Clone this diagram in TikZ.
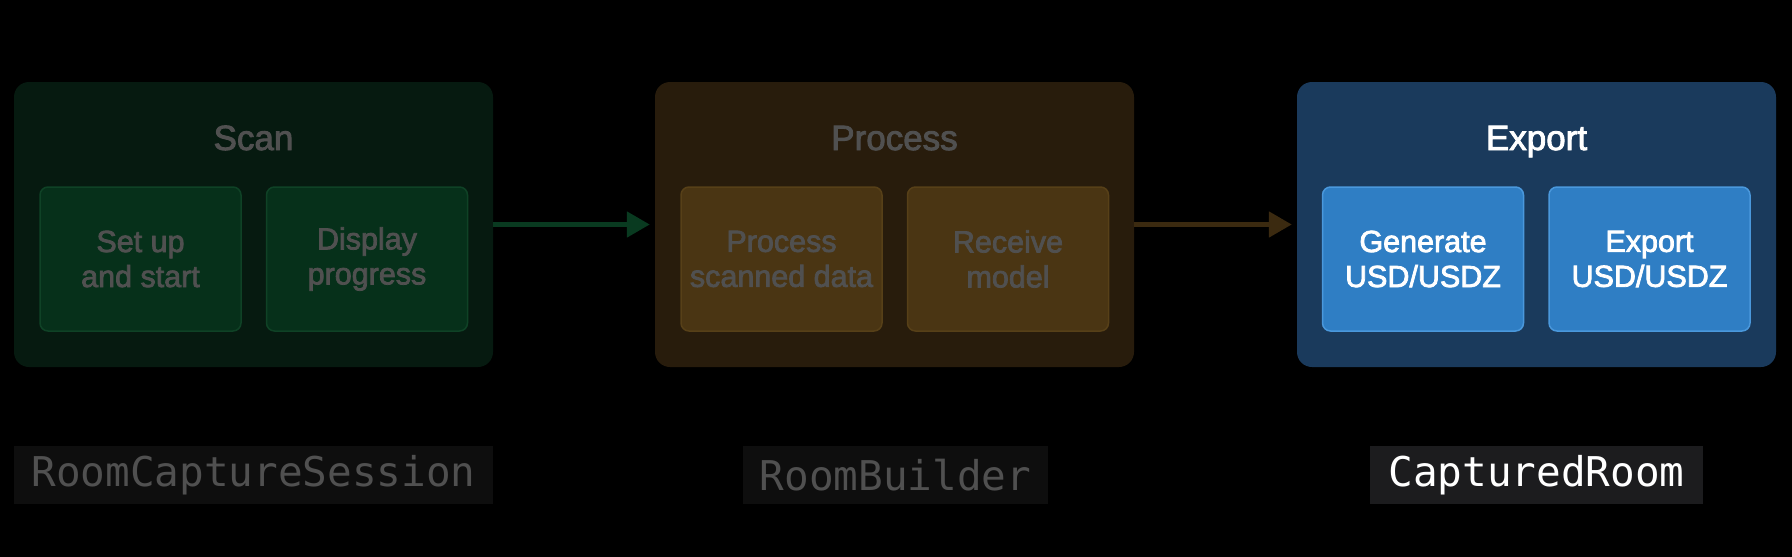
\documentclass[tikz,border=0pt]{standalone}
\usepackage{fontspec}
\setmainfont{Liberation Sans}[FakeBold=2.5]
\newfontfamily\codefont{DejaVu Sans Mono}
\usetikzlibrary{arrows.meta}
\definecolor{bgblack}{HTML}{000000}
\definecolor{greenouter}{HTML}{061A10}
\definecolor{greeninner}{HTML}{06301A}
\definecolor{greenborder}{HTML}{0F4226}
\definecolor{greenarrow}{HTML}{093A20}
\definecolor{brownouter}{HTML}{281C0C}
\definecolor{browninner}{HTML}{4A3513}
\definecolor{brownborder}{HTML}{574018}
\definecolor{brownarrow}{HTML}{3B2A10}
\definecolor{blueouter}{HTML}{1A3A5C}
\definecolor{blueinner}{HTML}{2F7EC4}
\definecolor{blueborder}{HTML}{4A98DC}
\definecolor{dimtext}{HTML}{505050}
\definecolor{labeldark}{HTML}{0E0E0E}
\definecolor{labellight}{HTML}{1C1C1E}
\tikzset{
  outerbox/.style={rounded corners=15pt, minimum width=479pt, minimum height=285pt, inner sep=0pt},
  innerbox/.style={rounded corners=8pt, minimum width=201pt, minimum height=144pt, inner sep=0pt,
    line width=1.5pt, align=center, font=\fontsize{30.5}{35}\selectfont},
  titletext/.style={anchor=base, font=\fontsize{35}{42}\selectfont, inner sep=0pt},
  codelabel/.style={minimum height=58pt, inner sep=0pt, font=\codefont\fontsize{41}{48}\selectfont},
  flowarrow/.style={line width=5pt, -{Triangle[length=23pt,width=25pt]}, shorten >=5pt},
}
\begin{document}
\begin{tikzpicture}[x=1pt,y=-1pt]
\fill[bgblack] (0,0) rectangle (1792,557);
\useasboundingbox (0,0) rectangle (1792,557);

% Scan
\node[outerbox, fill=greenouter] (scan) at (253.5,224.5) {};
\node[titletext, text=dimtext] (scant) at (253.5,150) {Scan};
\node[innerbox, fill=greeninner, draw=greenborder, text=dimtext] (setup) at (140.5,259) {Set up\\and start};
\node[innerbox, fill=greeninner, draw=greenborder, text=dimtext] (display) at (367,259) {Display\\progress};

% Process
\node[outerbox, fill=brownouter] (proc) at (894.5,224.5) {};
\node[titletext, text=dimtext] (proct) at (894.5,150) {Process};
\node[innerbox, fill=browninner, draw=brownborder, text=dimtext] (pdata) at (781.5,259) {Process\\scanned data};
\node[innerbox, fill=browninner, draw=brownborder, text=dimtext] (recv) at (1008,259) {Receive\\model};

% Export
\node[outerbox, fill=blueouter] (exp) at (1536.5,224.5) {};
\node[titletext, text=white] (expt) at (1536.5,150) {Export};
\node[innerbox, fill=blueinner, draw=blueborder, text=white] (gen) at (1423,259) {Generate\\USD/USDZ};
\node[innerbox, fill=blueinner, draw=blueborder, text=white] (expu) at (1649.5,259) {Export\\USD/USDZ};

% Arrows
\draw[flowarrow, greenarrow] (scan.east) -- (proc.west);
\draw[flowarrow, brownarrow] (proc.east) -- (exp.west);

% Code labels
\node[codelabel, fill=labeldark, text=dimtext, minimum width=479pt] (l1) at (253.5,475) {RoomCaptureSession};
\node[codelabel, fill=labeldark, text=dimtext, minimum width=305pt] (l2) at (895.5,475) {RoomBuilder};
\node[codelabel, fill=labellight, text=white, minimum width=333pt] (l3) at (1536.5,475) {CapturedRoom};
\end{tikzpicture}
\end{document}
